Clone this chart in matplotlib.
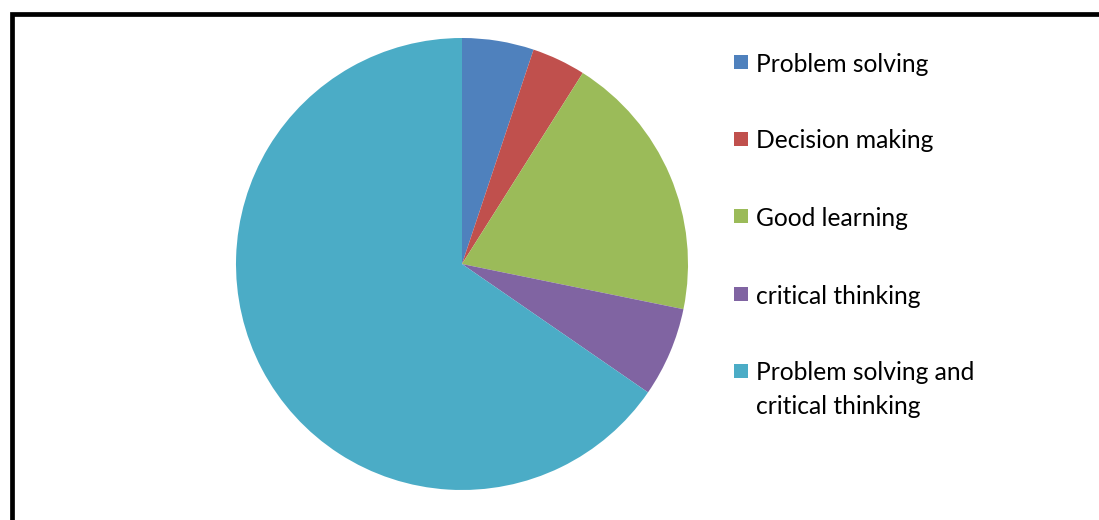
import matplotlib
matplotlib.use("Agg")
import matplotlib.pyplot as plt
from matplotlib.patches import Rectangle

# respuestas por categoría
categorias = ["Problem solving", "Decision making", "Good learning",
              "critical thinking", "Problem solving and\ncritical thinking"]
respuestas = [4, 3, 15, 5, 51]
colores = ["#4F81BD", "#C0504D", "#9BBB59", "#8064A2", "#4BACC6"]

W, H = 1099, 520
fig = plt.figure(figsize=(W / 100, H / 100), dpi=100)
fig.patch.set_facecolor("white")

# eje del pastel: centro (462, 264), radio 226 px
cx, cy, r = 462, 264, 226
ax = fig.add_axes([(cx - r) / W, (H - cy - r) / H, 2 * r / W, 2 * r / H])
ax.pie(respuestas, colors=colores, startangle=90, counterclock=False,
       radius=1.0, wedgeprops=dict(linewidth=0))
ax.set_xlim(-1, 1)
ax.set_ylim(-1, 1)
ax.set_aspect("equal")
ax.axis("off")

# leyenda a mano (cuadro + texto, una línea de texto cada 33 px)
fila_y = [62, 139, 216, 294, 371]
for lab, col, y in zip(categorias, colores, fila_y):
    fig.add_artist(Rectangle((734 / W, (H - y - 7) / H), 14 / W, 14 / H,
                             transform=fig.transFigure, facecolor=col,
                             edgecolor="none"))
    for k, linea in enumerate(lab.split("\n")):
        fig.text(756 / W, (H - y - 2 - 33 * k) / H, linea, fontsize=17.7,
                 family="Lato", va="center", ha="left", color="black")

# marco (recortado a la derecha y abajo)
fig.add_artist(Rectangle((11.5 / W, -0.1), 1.2, (H - 13.5) / H + 0.1,
                         transform=fig.transFigure, fill=False,
                         edgecolor="black", linewidth=3.4))

fig.savefig("out.png", dpi=100)
